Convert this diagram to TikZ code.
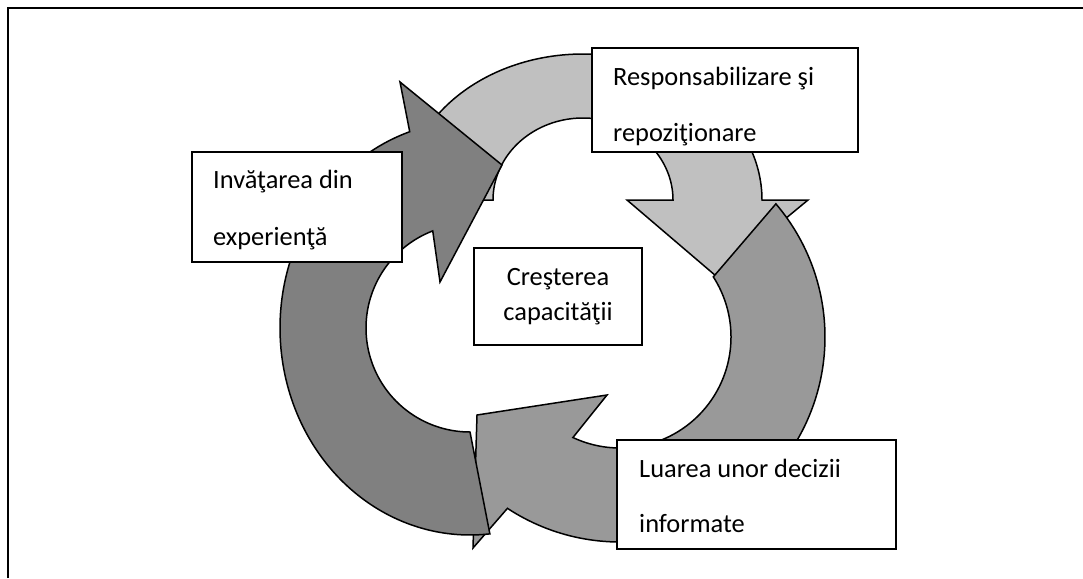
\documentclass[tikz,border=0pt]{standalone}
\usepackage{fontspec}
\setmainfont{Carlito}
\definecolor{arrowlight}{HTML}{C0C0C0}
\definecolor{arrowmid}{HTML}{999999}
\definecolor{arrowdark}{HTML}{808080}
\begin{document}
\begin{tikzpicture}[x=1pt,y=-1pt,
  outline/.style={draw=black, line width=1.5pt, line join=miter},
  lightarrow/.style={outline, fill=arrowlight},
  midarrow/.style={outline, fill=arrowmid},
  darkarrow/.style={outline, fill=arrowdark},
  box/.style={draw=black, fill=white, line width=1.4pt, inner sep=0pt},
  txt/.style={font=\fontsize{26.4}{32}\selectfont, inner sep=0pt, anchor=base west},
  ctxt/.style={txt, anchor=base},
  frame/.style={draw=black, line width=2pt}]
\useasboundingbox (0,0) rectangle (1083,578);

% page frame (top and left rules)
\coordinate (frameBL) at (8,578);
\coordinate (frameTL) at (8,8);
\coordinate (frameTR) at (1083,8);
\draw[frame] (frameBL) -- (frameTL) -- (frameTR);

% light arrow: over the top, head pointing down on the right
\path[lightarrow]
  plot[domain=180:360, samples=120] ({583+179*cos(\x)}, {200+146*sin(\x)})
  -- (808,200) -- (716,276) -- (627,200)
  -- plot[domain=360:180, samples=120] ({583+90*cos(\x)}, {200+82*sin(\x)})
  -- cycle;

% middle arrow: down the right side, head pointing left at the bottom
\path[midarrow]
  plot[domain=-40.5:123.3, samples=120] ({620+205*cos(\x)}, {337+205*sin(\x)})
  -- (473,548) -- (477,415) -- (607,395)
  -- plot[domain=115.1:-32.8, samples=120] ({620+111*cos(\x)}, {337+111*sin(\x)})
  -- cycle;

% dark arrow: up the left side, head pointing right at the top
\path[darkarrow]
  plot[domain=84:251.5, samples=120] ({470+190*cos(\x)}, {328+207*sin(\x)})
  -- (400,82) -- (502,165) -- (440,282)
  -- plot[domain=249:90, samples=120] ({470+104*cos(\x)}, {328+104*sin(\x)})
  -- cycle;

% boxes
\node[box, minimum width=266pt, minimum height=104pt] (respbox) at (725,100) {};
\node[box, minimum width=210pt, minimum height=110pt] (learnbox) at (297,207) {};
\node[box, minimum width=168pt, minimum height=97pt] (growbox) at (558,296.5) {};
\node[box, minimum width=279pt, minimum height=109pt] (decbox) at (756.5,494.5) {};

% labels
\node[txt] (resp1) at (613,85) {Responsabilizare şi};
\node[txt] (resp2) at (613,141) {repoziţionare};
\node[txt] (learn1) at (213,188) {Invăţarea din};
\node[txt] (learn2) at (213,245) {experienţă};
\node[ctxt] (grow1) at (558,285) {Creşterea};
\node[ctxt] (grow2) at (558,320) {capacităţii};
\node[txt] (dec1) at (639,477) {Luarea unor decizii};
\node[txt] (dec2) at (639,532) {informate};
\end{tikzpicture}
\end{document}
